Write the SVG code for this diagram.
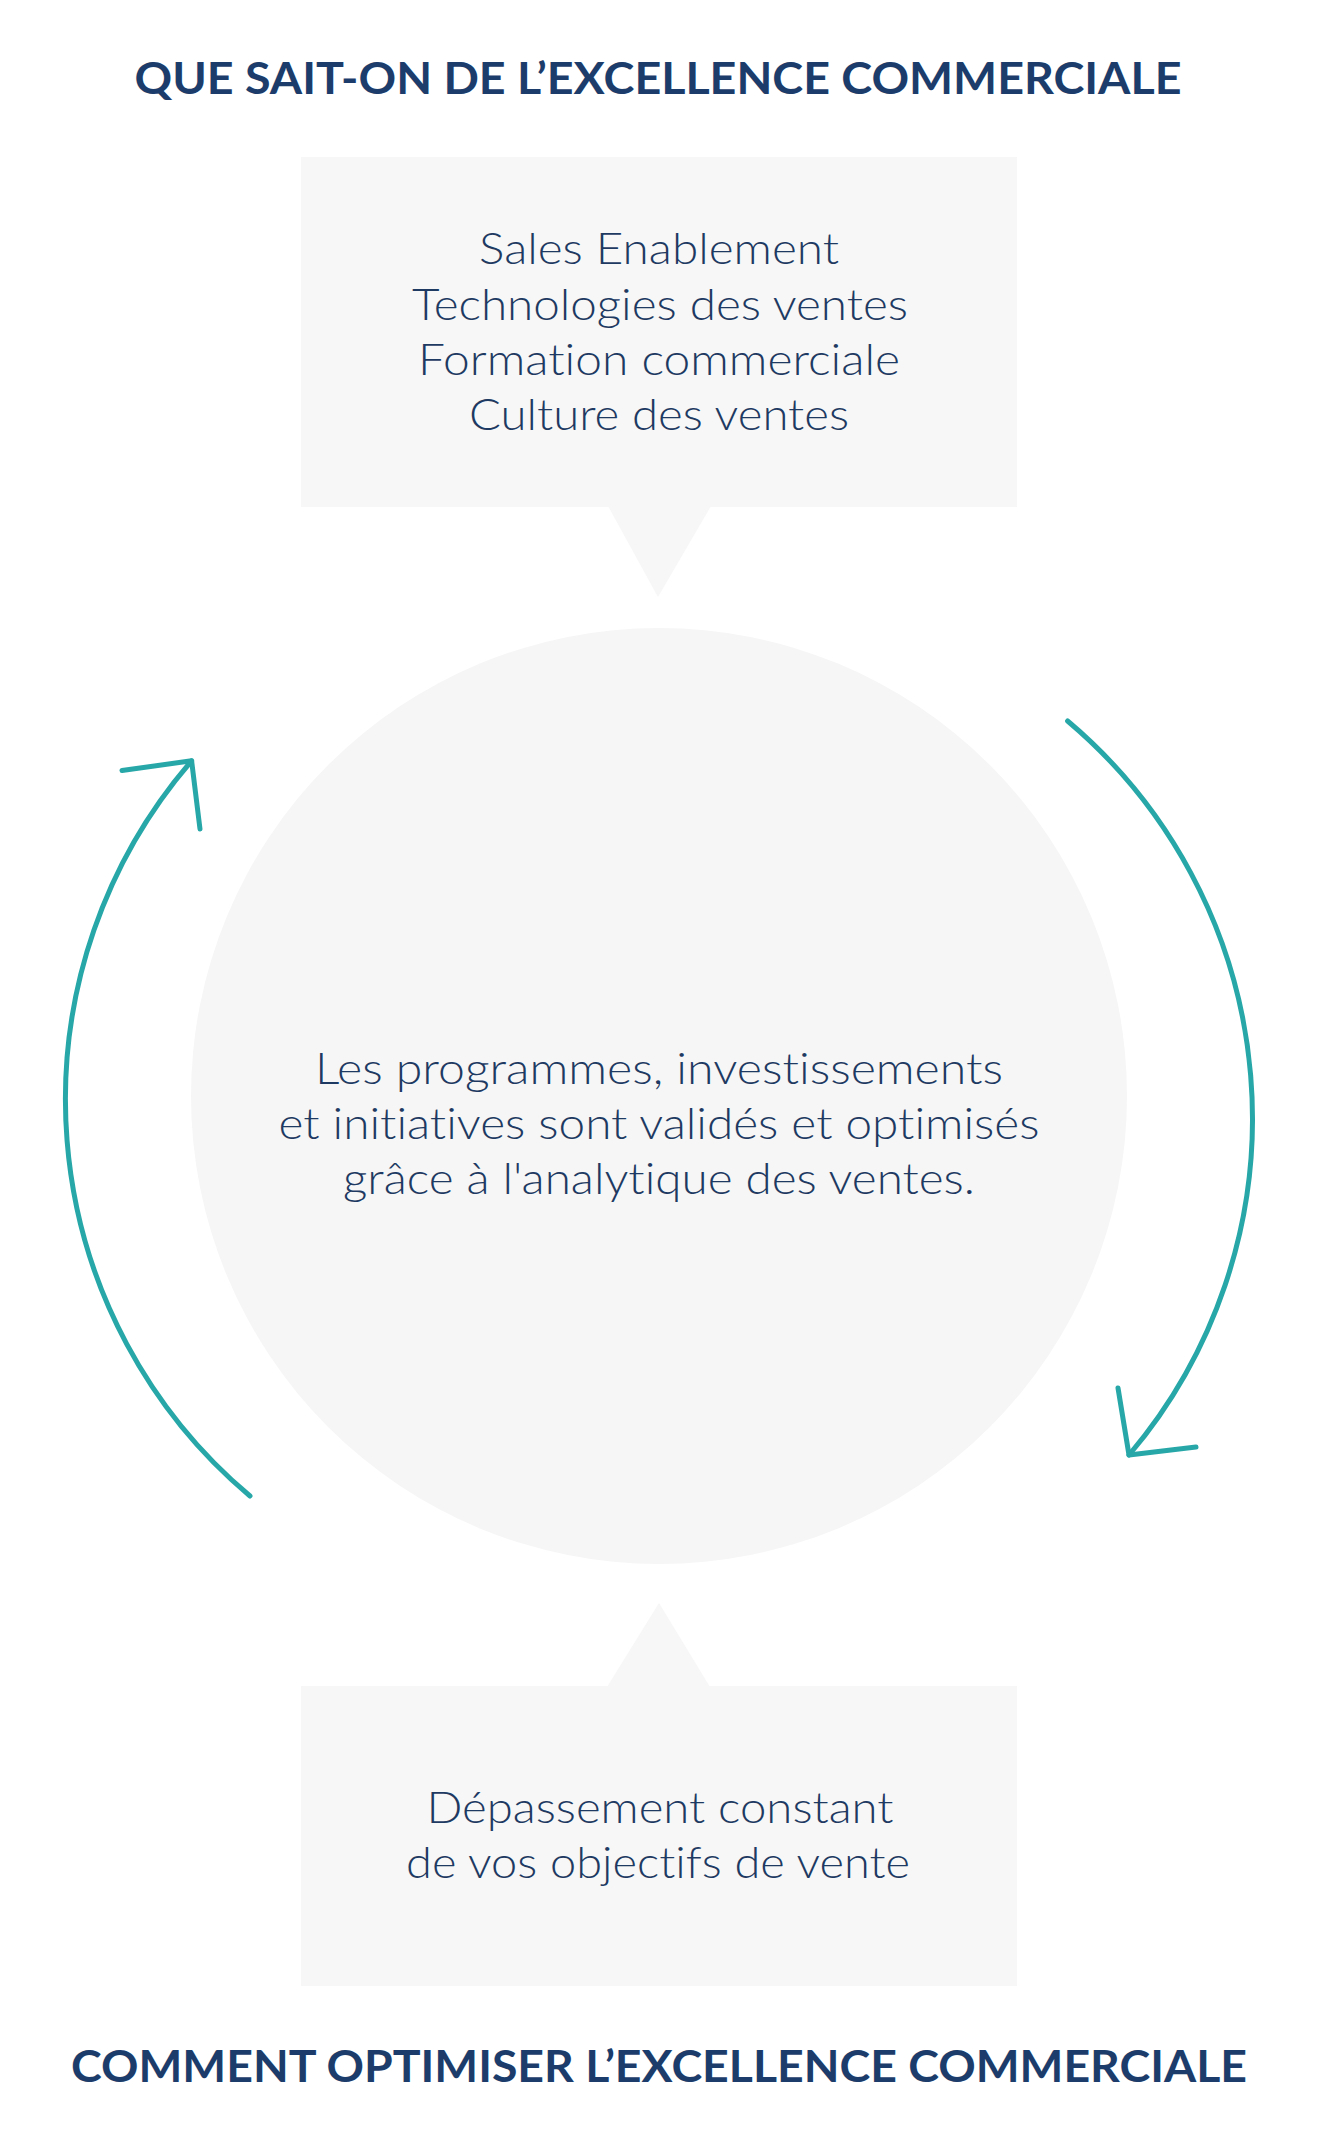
<svg xmlns="http://www.w3.org/2000/svg" width="1318" height="2144" viewBox="0 0 1318 2144">
  <style>
    .title { font-family: Lato, "Open Sans", "Liberation Sans", sans-serif; font-weight: 700; font-size: 44px; fill: #1C3D6B; text-anchor: middle; font-variant-ligatures: none; }
    .body { font-family: Lato, "Open Sans", "Liberation Sans", sans-serif; font-weight: 300; font-size: 44px; fill: #1E3A62; text-anchor: middle; font-variant-ligatures: none; }
    .bubble { fill: #F7F7F7; }
    .arrow { fill: none; stroke: #27A7A8; stroke-width: 5; stroke-linecap: round; stroke-linejoin: round; }
  </style>
  <rect width="1318" height="2144" fill="#FFFFFF"/>

  <g id="title-top">
    <text class="title" x="658" y="94" textLength="1047" lengthAdjust="spacingAndGlyphs">QUE SAIT-ON DE L’EXCELLENCE COMMERCIALE</text>
  </g>

  <g id="box-top">
    <rect class="bubble" x="301" y="157" width="716" height="350"/>
    <polygon class="bubble" points="608,506 711,506 658,597"/>
    <text class="body" x="659" y="264" textLength="360" lengthAdjust="spacingAndGlyphs">Sales Enablement</text>
    <text class="body" x="660" y="320" textLength="496" lengthAdjust="spacingAndGlyphs">Technologies des ventes</text>
    <text class="body" x="659" y="375" textLength="482" lengthAdjust="spacingAndGlyphs">Formation commerciale</text>
    <text class="body" x="659" y="430" textLength="380" lengthAdjust="spacingAndGlyphs">Culture des ventes</text>
  </g>

  <g id="circle-center">
    <circle cx="659" cy="1096" r="468" fill="#F6F6F6"/>
    <text class="body" x="659" y="1084" textLength="688" lengthAdjust="spacingAndGlyphs">Les programmes, investissements</text>
    <text class="body" x="659" y="1139" textLength="761" lengthAdjust="spacingAndGlyphs">et initiatives sont validés et optimisés</text>
    <text class="body" x="659" y="1194" textLength="632" lengthAdjust="spacingAndGlyphs">grâce à l'analytique des ventes.</text>
  </g>

  <g id="box-bottom">
    <rect class="bubble" x="301" y="1686" width="716" height="300"/>
    <polygon class="bubble" points="607,1687 710,1687 659,1603"/>
    <text class="body" x="660" y="1823" textLength="467" lengthAdjust="spacingAndGlyphs">Dépassement constant</text>
    <text class="body" x="658" y="1878" textLength="504" lengthAdjust="spacingAndGlyphs">de vos objectifs de vente</text>
  </g>

  <g id="title-bottom">
    <text class="title" x="659" y="2082" textLength="1176" lengthAdjust="spacingAndGlyphs">COMMENT OPTIMISER L’EXCELLENCE COMMERCIALE</text>
  </g>

  <g id="connectors">
    <path class="arrow" d="M250,1496 A518,518 0 0 1 191.6,760.8"/>
    <polyline class="arrow" points="122,770.5 191.6,760.8 200,829"/>
    <path class="arrow" d="M1067.6,721 A520,520 0 0 1 1129,1455"/>
    <polyline class="arrow" points="1118,1388 1129,1455 1196,1447"/>
  </g>
</svg>
